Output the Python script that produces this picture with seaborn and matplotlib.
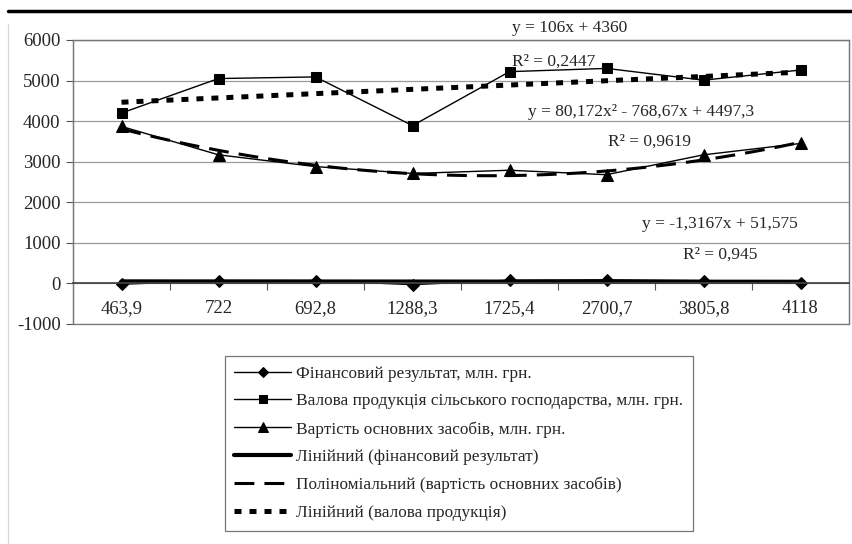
import numpy as np
import pandas as pd
import seaborn as sns
import matplotlib.pyplot as plt
from matplotlib.lines import Line2D
from matplotlib.patches import Rectangle

# categories on the x axis (as printed)
categories = ["463,9", "722", "692,8", "1288,3", "1725,4", "2700,7", "3805,8", "4118"]

# series values
fin_result = [-20, 70, 70, -30, 80, 90, 70, 10]
gross_output = [4200, 5050, 5090, 3890, 5220, 5300, 5010, 5260]
fixed_assets = [3870, 3170, 2880, 2710, 2790, 2680, 3170, 3450]

# trendline coefficients as printed on the chart (Excel uses x = 1..n)
fin_trend = [-1.3167, 51.575]
gross_trend = [106, 4360]
assets_trend = [80.172, -768.67, 4497.3]

series_labels = [
    "Фінансовий результат, млн. грн.",
    "Валова продукція сільського господарства, млн. грн.",
    "Вартість основних засобів, млн. грн.",
    "Лінійний (фінансовий результат)",
    "Поліноміальний (вартість основних засобів)",
    "Лінійний (валова продукція)",
]

sns.set_theme(style="white")
plt.rcParams["font.family"] = ["Liberation Serif", "DejaVu Serif"]
plt.rcParams["axes.unicode_minus"] = False

fig = plt.figure(figsize=(8.52, 5.44), dpi=100)
ax = fig.add_axes([73 / 852, 1 - 324 / 544, 776 / 852, 284 / 544])

pos = np.arange(len(categories))
xs = pos + 1  # Excel trendline x
fine = np.linspace(1, len(categories), 120)

data = pd.DataFrame({"pos": pos, "fin": fin_result, "gross": gross_output, "assets": fixed_assets})

# data series
sns.lineplot(data=data, x="pos", y="fin", ax=ax, color="black", lw=1, marker="D",
             markersize=6.5, markeredgecolor="black", markerfacecolor="black")
sns.lineplot(data=data, x="pos", y="gross", ax=ax, color="black", lw=1, marker="s",
             markersize=7.5, markeredgecolor="black", markerfacecolor="black")
sns.lineplot(data=data, x="pos", y="assets", ax=ax, color="black", lw=1, marker="^",
             markersize=8.5, markeredgecolor="black", markerfacecolor="black")

# trendlines
sns.lineplot(x=xs - 1, y=np.polyval(fin_trend, xs), ax=ax, color="black", lw=3)
sns.lineplot(x=fine - 1, y=np.polyval(assets_trend, fine), ax=ax, color="black", lw=2.2,
             linestyle=(0, (6.5, 3.3)))
sns.lineplot(x=xs - 1, y=np.polyval(gross_trend, xs), ax=ax, color="black", lw=3.6,
             linestyle=(0, (1.4, 1.6)))

handles = ax.get_lines()[:6]

# axes styling
ax.set_xlim(-0.5, len(categories) - 0.5)
ax.set_ylim(-1000, 6000)
ax.set_yticks(range(-1000, 6001, 1000))
ax.set_xticks(pos)
ax.set_xticklabels([])
ax.set_xticks(pos[:-1] + 0.5, minor=True)
ax.tick_params(axis="x", which="major", length=0)
ax.tick_params(axis="x", which="minor", length=5, width=0.8, color="#555555", direction="out", bottom=True)
ax.tick_params(axis="y", length=5, width=0.8, color="#555555", direction="out", left=True, labelsize=13.5, pad=4)
ax.set_xlabel("")
ax.set_ylabel("")
ax.grid(axis="y", color="#9a9a9a", lw=0.9)
ax.set_axisbelow(True)
ax.spines["bottom"].set_position(("data", 0))
ax.spines["bottom"].set_color("#444444")
for side in ["left", "right", "top"]:
    ax.spines[side].set_color("#777777")
    ax.spines[side].set_linewidth(0.9)
ax.add_patch(Rectangle((0, 0), 1, 1, transform=ax.transAxes, fill=False,
                       ec="#777777", lw=0.9, clip_on=False, zorder=0.5))

# category labels sit on a common baseline under the zero axis
for i, cat in zip(pos, categories):
    ax.text(i, -730, cat, ha="center", va="baseline", fontsize=13.5)

# trendline equations
notes = [
    (4.62, 6296, "y = 106x + 4360"),
    (4.45, 5458, "R² = 0,2447"),
    (5.36, 4225, "y = 80,172x² - 768,67x + 4497,3"),
    (5.44, 3486, "R² = 0,9619"),
    (6.17, 1465, "y = -1,3167x + 51,575"),
    (6.17, 700, "R² = 0,945"),
]
for nx, ny, txt in notes:
    ax.text(nx, ny, txt, ha="center", va="center", fontsize=12.5, clip_on=False)

# legend below the plot
leg = fig.legend(handles, series_labels, loc="upper left", bbox_to_anchor=(225 / 852, 1 - 356 / 544),
                 fontsize=12.4, frameon=True, fancybox=False, shadow=False, numpoints=1,
                 handlelength=3.3, handletextpad=0.3, labelspacing=0.68, borderpad=0.55,
                 borderaxespad=0, markerscale=0.8)
leg.get_frame().set_edgecolor("#555555")
leg.get_frame().set_linewidth(0.9)

# heavy rule at the top of the page and faint left border of the chart area
fig.add_artist(Line2D([8 / 852, 1], [1 - 11 / 544] * 2, color="black", lw=2.5))
fig.add_artist(Line2D([8 / 852] * 2, [0, 1 - 24 / 544], color="#d6d6d6", lw=0.8))

fig.savefig("out.png", dpi=100)
